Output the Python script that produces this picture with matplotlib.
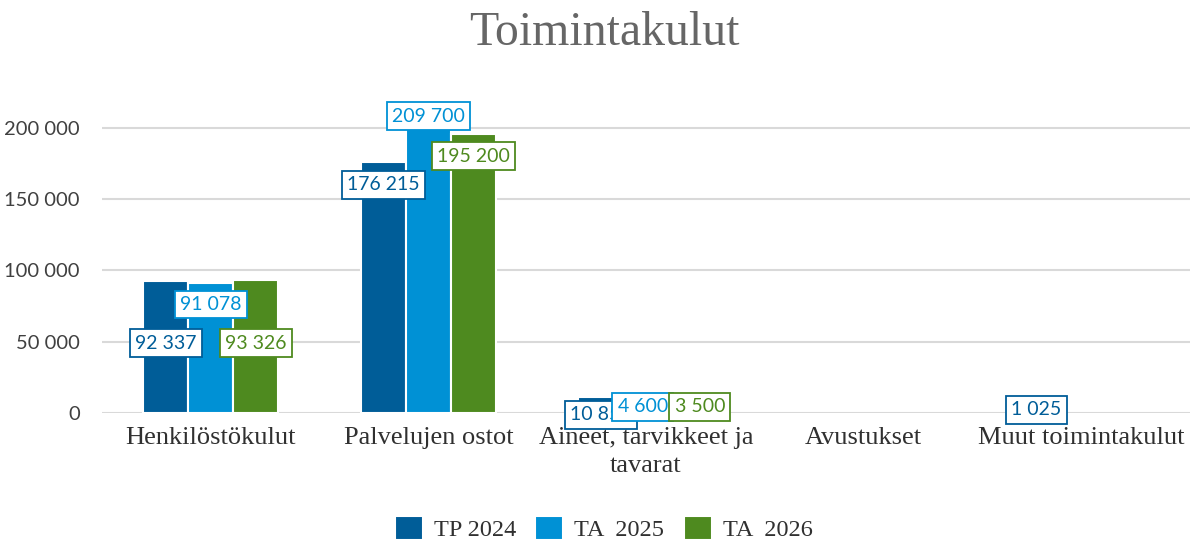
import numpy as np
import matplotlib.pyplot as plt

categories = ['Henkilöstökulut', 'Palvelujen ostot', 'Aineet, tarvikkeet ja\ntavarat',
              'Avustukset', 'Muut toimintakulut']
series = ['TP 2024', 'TA  2025', 'TA  2026']
tp_2024 = [92337, 176215, 10850, 0, 1025]
ta_2025 = [91078, 209700, 4600, 0, 0]
ta_2026 = [93326, 195200, 3500, 0, 0]
labels_tp = ['92 337', '176 215', '10 850', None, '1 025']
labels_25 = ['91 078', '209 700', '4 600', None, None]
labels_26 = ['93 326', '195 200', '3 500', None, None]
yticks = [0, 50000, 100000, 150000, 200000]
ytick_labels = ['0', '50 000', '100 000', '150 000', '200 000']

# where Excel put the data labels (data units), to mimic its overlap handling
label_y_tp = [49000, 160000, -1400, None, 2200]
label_y_25 = [76000, 208000, 4200, None, None]
label_y_26 = [49000, 180000, 4200, None, None]
label_dx_25 = [0, 0, -0.015, 0, 0]
label_dx_26 = [0, 0, 0.04, 0, 0]
label_dx_tp = [0, 0, 0, 0, 0]

colors = ['#005D98', '#0091D5', '#4E8A1F']
serif = 'Liberation Serif'
sans = 'Lato'

fig = plt.figure(figsize=(11.93, 5.44), dpi=100)
ax = fig.add_axes([0.0855, 0.241, 0.912, 0.603])

x = np.arange(len(categories))
w = 0.207
vals = [tp_2024, ta_2025, ta_2026]
labs = [labels_tp, labels_25, labels_26]
laby = [label_y_tp, label_y_25, label_y_26]
labdx = [label_dx_tp, label_dx_25, label_dx_26]

for i in range(3):
    xs = x + (i - 1) * w
    v = np.array(vals[i])
    keep = v > 0  # zero bars would paint a white edge over the axis line
    ax.bar(xs[keep], v[keep], width=w, color=colors[i], edgecolor='white', lw=1.5,
           label=series[i], zorder=2)

for i in range(3):
    xs = x + (i - 1) * w
    for j in range(len(categories)):
        if labs[i][j] is None:
            continue
        ax.text(xs[j] + labdx[i][j], laby[i][j], labs[i][j], ha='center', va='center',
                fontsize=14, family=sans, color=colors[i], zorder=5 + i,
                bbox=dict(boxstyle='square,pad=0.28', fc='white', ec=colors[i], lw=1.3))

ax.set_xlim(-0.5, len(categories) - 0.5)
ax.set_ylim(0, 230000)
ax.set_yticks(yticks)
ax.set_yticklabels(ytick_labels, family=sans, fontsize=14.5, color='#404040')
ax.set_xticks(x)
ax.set_xticklabels(categories, family=serif, fontsize=19, color='#303030',
                   linespacing=1.35)
ax.tick_params(length=0)
ax.tick_params(axis='x', pad=10)
ax.tick_params(axis='y', pad=16)
for s in ax.spines.values():
    s.set_visible(False)
ax.grid(axis='y', color='#d9d9d9', lw=1.5, zorder=0)

fig.text(0.507, 0.94, 'Toimintakulut', ha='center', va='center',
         family=serif, fontsize=34.5, color='#666666')

leg = fig.legend(loc='center', bbox_to_anchor=(0.506, 0.028), ncol=3, frameon=False,
                 prop={'family': serif, 'size': 17.5}, handlelength=1.15, handleheight=1.15,
                 columnspacing=0.8, handletextpad=0.45)
for t in leg.get_texts():
    t.set_color('#303030')

fig.savefig('out.png', dpi=100)
